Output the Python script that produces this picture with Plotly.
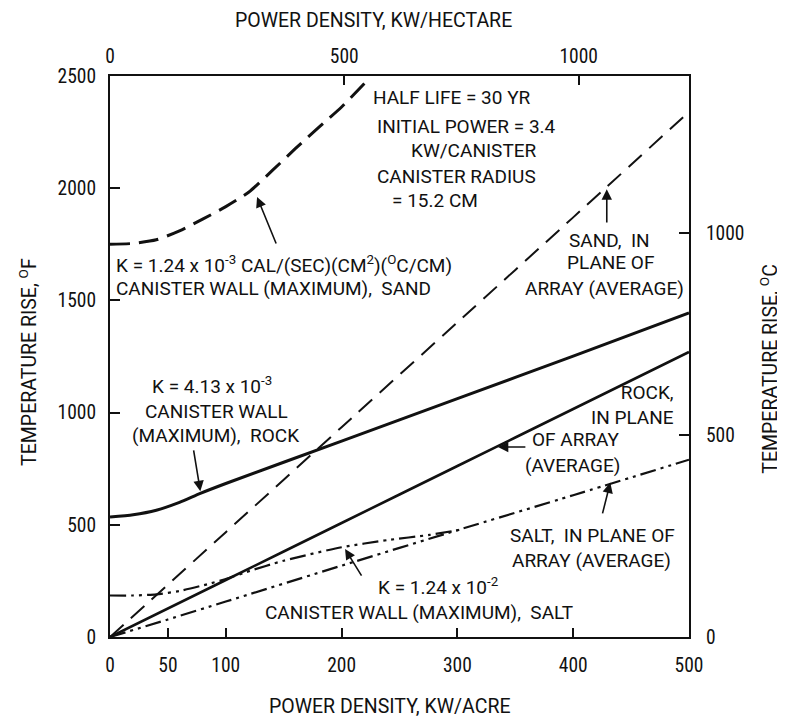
import plotly.graph_objects as go

# ---------------- data ----------------
# x: power density, kW/acre ; y: temperature rise, deg F
sand_wall_x = [0, 20, 40, 60, 80, 100, 120, 140, 160, 180, 200, 224]
sand_wall_y = [1750, 1754, 1770, 1810, 1862, 1918, 1983, 2078, 2176, 2270, 2362, 2490]

sand_avg_x = [0, 100, 200, 300, 400, 500]
sand_avg_y = [0, 467, 935, 1402, 1870, 2340]

rock_wall_x = [0, 20, 40, 60, 78, 100, 200, 300, 400, 500]
rock_wall_y = [535, 545, 565, 600, 640, 684, 873, 1062, 1252, 1444]

rock_avg_x = [0, 100, 200, 300, 400, 500]
rock_avg_y = [0, 254, 508, 762, 1016, 1270]

salt_wall_x = [0, 20, 40, 60, 84, 100, 118, 150, 200, 240, 276, 305]
salt_wall_y = [185, 185, 190, 205, 235, 258, 290, 340, 400, 432, 455, 480]

salt_avg_x = [0, 50, 100, 200, 300, 400, 500]
salt_avg_y = [0, 78, 158, 318, 476, 632, 790]

bottom_ticks = [0, 50, 100, 200, 300, 400, 500]
left_ticks = [0, 500, 1000, 1500, 2000, 2500]
top_ticks = [0, 500, 1000]
right_ticks = [0, 500, 1000]

ACRE_TO_HECTARE = 0.404686
X_MAX = 500
Y_MAX = 2500

FONT = "Roboto, DejaVu Sans, sans-serif"
TICKFONT = "Roboto Condensed, DejaVu Sans Condensed, sans-serif"
BLACK = "#111111"

fig = go.Figure()

def add_line(x, y, dash, width):
    fig.add_trace(go.Scatter(x=x, y=y, mode="lines", showlegend=False,
                             hoverinfo="skip",
                             line=dict(color=BLACK, width=width, dash=dash,
                                       shape="spline", smoothing=0.6)))

add_line(sand_wall_x, sand_wall_y, "20px,9px", 3)
add_line(sand_avg_x, sand_avg_y, "18px,10px", 2)
add_line(rock_wall_x, rock_wall_y, "solid", 3)
add_line(rock_avg_x, rock_avg_y, "solid", 2.6)
add_line(salt_wall_x, salt_wall_y, "16px,5px,3px,5px,3px,5px", 2.2)
add_line(salt_avg_x, salt_avg_y, "16px,5px,3px,5px,3px,5px", 2.2)

# helper trace so the secondary (top / right) axes are drawn
fig.add_trace(go.Scatter(x=[], y=[], xaxis="x2", yaxis="y2", showlegend=False))

tickfont = dict(family=TICKFONT, size=19.5, color=BLACK)
common = dict(showgrid=False, zeroline=False, showline=True, linewidth=2,
              linecolor=BLACK, ticks="inside", tickcolor=BLACK, tickwidth=1.5,
              tickfont=tickfont, fixedrange=True)

# the page adds an 8 px body margin, so the figure is 8 px smaller each way
fig.update_layout(
    width=777, height=713,
    margin=dict(l=102, r=96, t=68, b=84),
    paper_bgcolor="white", plot_bgcolor="white",
    font=dict(family=FONT, size=19, color=BLACK),
    xaxis=dict(range=[0, X_MAX], tickvals=bottom_ticks, ticklen=9,
               ticklabelstandoff=10, **common),
    yaxis=dict(range=[0, Y_MAX], tickvals=left_ticks, ticklen=10,
               ticklabelstandoff=8, **common),
    xaxis2=dict(overlaying="x", side="top", range=[0, X_MAX / ACRE_TO_HECTARE],
                tickvals=top_ticks, ticklen=9, ticklabelstandoff=3, **common),
    yaxis2=dict(overlaying="y", side="right", range=[0, Y_MAX * 5 / 9],
                tickvals=right_ticks, ticklen=10, ticklabelstandoff=11, **common),
)

ann = []

def txt(x, y, text, xanchor="center", size=19, xref="x", yref="y", angle=0,
        align="center"):
    ann.append(dict(x=x, y=y, xref=xref, yref=yref, text=text, showarrow=False,
                    xanchor=xanchor, yanchor="middle", textangle=angle,
                    align=align, borderpad=0,
                    font=dict(family=FONT, size=size, color=BLACK)))

def arrow(x, y, ax, ay):
    ann.append(dict(x=x, y=y, ax=ax, ay=ay, xref="x", yref="y", axref="x",
                    ayref="y", text="", showarrow=True, arrowhead=2,
                    arrowsize=1.3, arrowwidth=1.6, arrowcolor=BLACK))

# axis titles
txt(0.455, 1.0995, "POWER DENSITY, KW/HECTARE", xref="paper", yref="paper", size=19.5)
txt(0.484, -0.123, "POWER DENSITY, KW/ACRE", xref="paper", yref="paper", size=19.5)
txt(-0.142, 0.490, "TEMPERATURE RISE, <sup>O</sup>F", xref="paper", yref="paper",
    size=19.5, angle=-90)
txt(1.138, 0.478, "TEMPERATURE RISE, <sup>O</sup>C", xref="paper", yref="paper",
    size=19.5, angle=-90)

# parameter block
txt(295, 2406, "HALF LIFE = 30 YR")
txt(308, 2277, "INITIAL POWER = 3.4")
txt(314, 2166, "KW/CANISTER")
txt(299, 2054, "CANISTER RADIUS")
txt(281, 1947, "= 15.2 CM")

# sand, canister wall
txt(4, 1658, "K = 1.24 x 10<sup>-3</sup> CAL/(SEC)(CM<sup>2</sup>)(<sup>O</sup>C/CM)",
    xanchor="left")
txt(4, 1555, "CANISTER WALL (MAXIMUM),  SAND", xanchor="left")
arrow(127, 1961, 144, 1747)

# sand, plane of array
txt(431, 1769, "SAND,  IN")
txt(432, 1667, "PLANE OF")
txt(427, 1555, "ARRAY (AVERAGE)")
arrow(429, 1995, 429, 1840)

# rock, canister wall
txt(88, 1123, "K = 4.13 x 10<sup>-3</sup>")
txt(92, 1003, "CANISTER WALL")
txt(91, 900, "(MAXIMUM),  ROCK")
arrow(78, 650, 72, 838)

# rock, plane of array
txt(488, 1033, "ROCK,<br>IN PLANE", xanchor="right", align="right")
txt(402, 878, "OF ARRAY")
txt(399, 766, "(AVERAGE)")
arrow(335, 847, 360, 847)

# salt, plane of array
txt(417, 454, "SALT,  IN PLANE OF")
txt(416, 343, "ARRAY (AVERAGE)")
arrow(432, 688, 425, 544)

# salt, canister wall
txt(283, 223, "K = 1.24 x 10<sup>-2</sup>")
txt(267, 111, "CANISTER WALL (MAXIMUM),  SALT")
arrow(203, 392, 218, 267)

fig.update_layout(annotations=ann)
fig.write_html("out.html")
